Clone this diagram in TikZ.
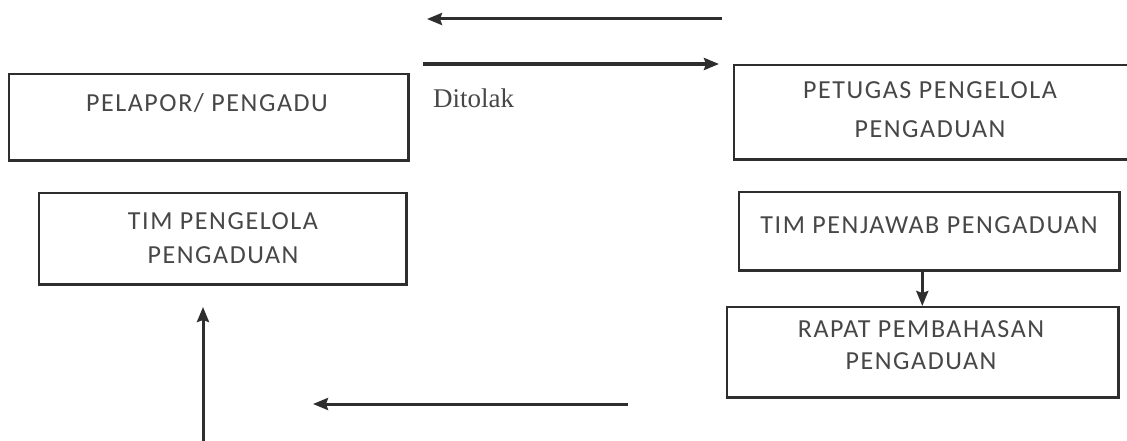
\documentclass[tikz,border=0pt]{standalone}
\usepackage{fontspec}
\setmainfont{Carlito}[LetterSpace=6]
\newfontfamily\ditfont{Liberation Serif}
\usetikzlibrary{arrows.meta}
\definecolor{ink}{HTML}{2E2E2E}
\definecolor{txt}{HTML}{474747}
\begin{document}
\begin{tikzpicture}[x=1pt,y=-1pt,
  box/.style={draw=ink,line width=1.6pt,rectangle,inner sep=0pt,anchor=north west},
  edge/.style={draw=ink,line width=2.8pt},
  lbl/.style={text=txt,align=center,inner sep=0pt},
  arr/.style={draw=ink,line width=3pt,-{Stealth[length=15pt,width=12pt,inset=2pt]}}]
\useasboundingbox (0,0) rectangle (1127,441);
\clip (0,0) rectangle (1127,441);
\fill[white] (0,0) rectangle (1127,441);

% boxes
\node[box,minimum width=399pt,minimum height=86pt] (pelapor) at (8,73) {};
\node[box,minimum width=420pt,minimum height=94pt] (petugas) at (733,64) {};
\node[box,minimum width=367pt,minimum height=91pt] (timpengelola) at (38,192) {};
\node[box,minimum width=380pt,minimum height=78pt] (penjawab) at (738,191) {};
\node[box,minimum width=391pt,minimum height=90pt] (rapat) at (726,306) {};

\foreach \b in {pelapor,petugas,timpengelola,penjawab,rapat}
  \draw[edge] (\b.north east) -- (\b.south east) -- (\b.south west);

% labels
\node[lbl,font=\fontsize{26}{39}\selectfont] (tpelapor) at (207,103.5) {PELAPOR/ PENGADU};
\node[lbl,font=\fontsize{26}{39}\selectfont] (tpetugas) at (930,110) {PETUGAS PENGELOLA\\PENGADUAN};
\node[lbl,font=\fontsize{26}{34}\selectfont] (ttimpengelola) at (223,238) {TIM PENGELOLA\\PENGADUAN};
\node[lbl,font=\fontsize{26}{39}\selectfont] (tpenjawab) at (929,225) {TIM PENJAWAB PENGADUAN};
\node[lbl,font=\fontsize{26}{32}\selectfont] (trapat) at (921,345.5) {RAPAT PEMBAHASAN\\PENGADUAN};
\node[text=txt,font=\ditfont\fontsize{27}{30}\selectfont,anchor=base west,inner sep=0pt] (ditolak) at (433,108) {Ditolak};

% free ends of connectors
\coordinate (a1s) at (722,19);
\coordinate (a1e) at (427,19);
\coordinate (a2s) at (423,64);
\coordinate (a2e) at (719,64);
\coordinate (a3s) at (628,404);
\coordinate (a3e) at (313,404);
\coordinate (a4s) at (203,445);
\coordinate (a4e) at (203,307);

\draw[arr] (a1s) -- (a1e);
\draw[arr,line width=4pt] (a2s) -- (a2e);
\draw[arr] (a3s) -- (a3e);
\draw[arr] (a4s) -- (a4e);
\draw[arr] (rapat.north |- penjawab.south) -- (rapat.north);
\end{tikzpicture}
\end{document}
